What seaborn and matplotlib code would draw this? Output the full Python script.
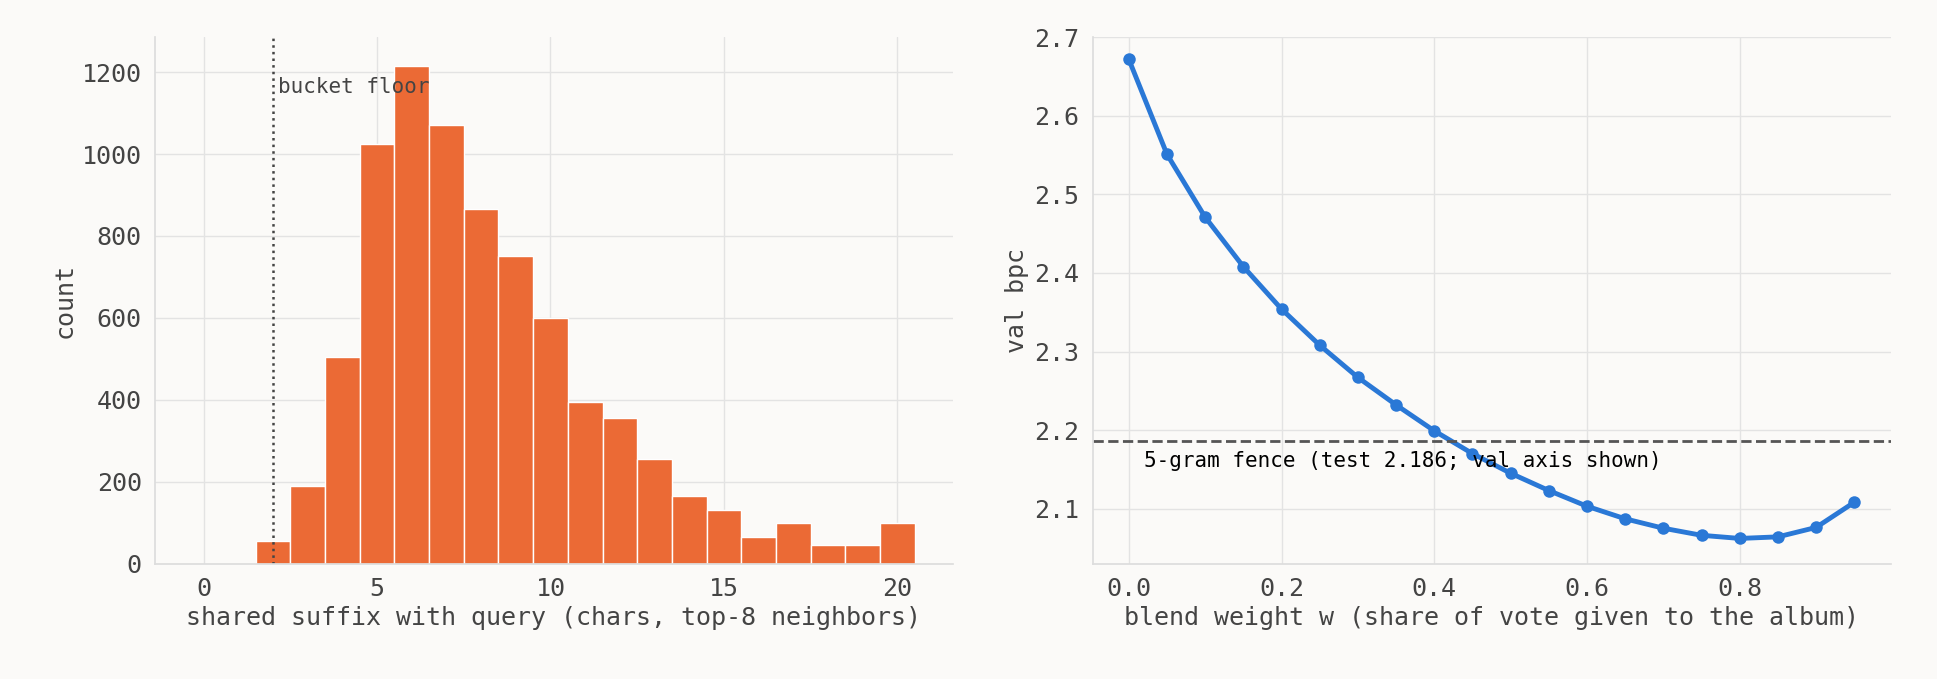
import numpy as np
import pandas as pd
import seaborn as sns
import matplotlib.pyplot as plt

# left: histogram of shared suffix lengths
suffix_len = list(range(2, 21))
suffix_count = [55, 190, 505, 1025, 1215, 1070, 865, 750, 600, 395, 355, 255, 165, 130, 65, 100, 45, 45, 100]

# right: blend weight sweep
blend_w = [0.0, 0.05, 0.1, 0.15, 0.2, 0.25, 0.3, 0.35, 0.4, 0.45,
           0.5, 0.55, 0.6, 0.65, 0.7, 0.75, 0.8, 0.85, 0.9, 0.95]
val_bpc = [2.672, 2.551, 2.471, 2.408, 2.354, 2.308, 2.267, 2.232, 2.199, 2.170,
           2.145, 2.123, 2.103, 2.087, 2.075, 2.066, 2.062, 2.064, 2.076, 2.108]
fence = 2.186
bucket_floor = 2

bg = "#fbfaf8"
sns.set_theme(style="whitegrid")
plt.rcParams["font.family"] = ["DejaVu Sans Mono"]
plt.rcParams.update({"figure.facecolor": bg, "axes.facecolor": bg,
                     "grid.color": "#e3e3e3", "axes.edgecolor": "#dddddd",
                     "text.color": "#444444", "axes.labelcolor": "#444444",
                     "xtick.color": "#444444", "ytick.color": "#444444"})

fig, (ax1, ax2) = plt.subplots(1, 2, figsize=(19.37, 6.79), dpi=100)
fig.subplots_adjust(left=0.08, right=0.976, bottom=0.17, top=0.945, wspace=0.175)

hist = pd.DataFrame({"len": suffix_len, "count": suffix_count})
sns.histplot(data=hist, x="len", weights="count", discrete=True, ax=ax1,
             color="#eb6a35", alpha=1, edgecolor="white", linewidth=1)
ax1.axvline(bucket_floor, color="#444444", linestyle=":", linewidth=1.8)
ax1.text(bucket_floor + 0.15, 1150, "bucket floor", fontsize=15, color="#444444")
ax1.set_xlim(-1.4, 21.6)
ax1.set_ylim(0, 1285)
ax1.set_xticks([0, 5, 10, 15, 20])
ax1.set_xlabel("shared suffix with query (chars, top-8 neighbors)", fontsize=18)
ax1.set_ylabel("count", fontsize=18)

sns.lineplot(x=blend_w, y=val_bpc, ax=ax2, color="#2a78d6", linewidth=3.5,
             marker="o", markersize=9, markeredgewidth=0)
ax2.axhline(fence, color="#555555", linestyle="--", linewidth=2)
ax2.text(0.02, 2.153, "5-gram fence (test 2.186; val axis shown)", fontsize=15, color="black")
ax2.set_xlim(-0.0475, 0.9975)
ax2.set_ylim(2.03, 2.70)
ax2.set_xlabel("blend weight w (share of vote given to the album)", fontsize=18)
ax2.set_ylabel("val bpc", fontsize=18)

for ax in (ax1, ax2):
    ax.tick_params(labelsize=18)
    for side in ("top", "right"):
        ax.spines[side].set_visible(False)

plt.savefig("out.png", facecolor=bg)
